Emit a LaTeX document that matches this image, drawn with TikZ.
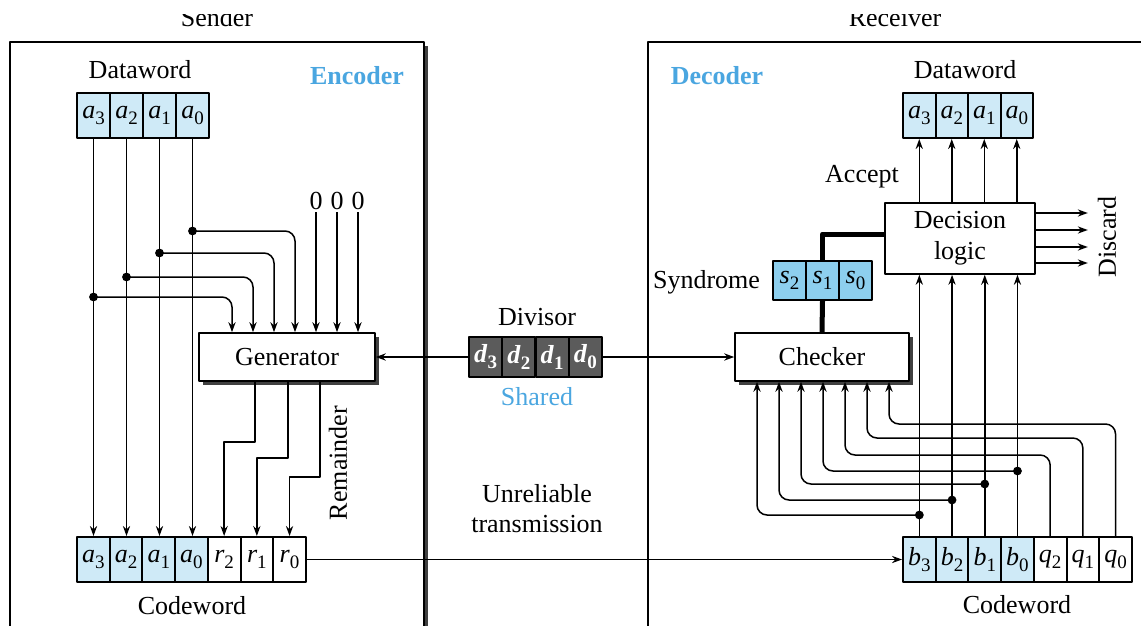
\documentclass[tikz,border=0pt]{standalone}
\usepackage{fontspec}
\setmainfont{Liberation Serif}
\usetikzlibrary{arrows.meta,shadows}
\definecolor{cellblue}{HTML}{CFEAF7}
\definecolor{synblue}{HTML}{8DCFEE}
\definecolor{lblue}{HTML}{4AA6E0}
\definecolor{divgrey}{HTML}{5B5B5B}
\newcommand{\bitlbl}[2]{\textit{#1}\raisebox{-0.5ex}{\fontsize{9.5}{9.5}\selectfont #2}}

\begin{document}
\begin{tikzpicture}[x=0.5pt, y=-0.5pt, line join=round,
	font=\fontsize{13}{15.5}\selectfont,
	arr/.style={-{Stealth[length=5pt,width=3.6pt]}, line width=0.75pt},
	cell/.style={draw, line width=1pt, minimum width=16.5pt, minimum height=22.5pt, inner sep=0pt},
	unit/.style={draw, line width=0.8pt, fill=white, minimum width=88pt, minimum height=24pt,
		drop shadow={shadow xshift=2pt, shadow yshift=-2pt, fill=black!75, opacity=1}},
	title/.style={font=\fontsize{13}{15.5}\selectfont\bfseries, text=lblue}]
	\useasboundingbox (0,0) rectangle (1141,626);
	\clip (0,15) rectangle (1141,626);

	% boxes
	\fill[black!75] (424,46) rectangle (428,660);
	\draw[line width=0.8pt] (10,42) rectangle (424,660);
	\draw[line width=0.8pt] (648,42) rectangle (1180,660);
	\node[anchor=base] at (217,27) {Sender};
	\node[anchor=base] at (895,27) {Receiver};
	\node[title] at (357,76) {Encoder};
	\node[title] at (717,76) {Decoder};

	% sender
	\node at (140,70) {Dataword};
	\foreach \k [count=\i from 0] in {3,2,1,0}
		\node[cell, fill=cellblue] (sa\k) at ({93.5+33*\i},115.5) {\bitlbl{a}{\k}};
	\foreach \k [count=\i from 0] in {3,2,1,0}
		\node[cell, minimum width=16.35pt, fill=cellblue] (ca\k) at ({93.35+32.7*\i},559.5) {\bitlbl{a}{\k}};
	\foreach \k [count=\i from 4] in {2,1,0}
		\node[cell, minimum width=16.35pt] (cr\k) at ({93.35+32.7*\i},559.5) {\bitlbl{r}{\k}};
	\node at (192,606) {Codeword};
	\node[unit] (gen) at (287,357) {Generator};
	\node[rotate=90] at (338,463) {Remainder};

	\foreach \k in {3,2,1,0}
		\draw[arr] (sa\k.south) -- (sa\k.south |- ca\k.north);
	\foreach \k/\y/\x in {3/297/232, 2/277/253, 1/253/274, 0/231/295} {
		\fill (sa\k.south |- 0,\y) circle (2.2pt);
		\draw[arr, rounded corners=5pt] (sa\k.south |- 0,\y) -| (\x,0 |- gen.north);
	}
	\foreach \x [count=\i] in {316,337,358} {
		\node[inner sep=1pt] (z\i) at (\x,201) {0};
		\draw[arr] (z\i.south) -- (z\i.south |- gen.north);
	}
	\foreach \x/\y/\k in {255/442/2, 288/458/1, 320/477/0}
		\draw[arr] (\x,0 |- gen.south) -- (\x,\y) -| (cr\k.north);

	% shared divisor
	\node at (537,317) {Divisor};
	\foreach \k [count=\i from 0] in {3,2,1,0}
		\node[cell, fill=divgrey, text=white, minimum width=16.6pt, minimum height=20pt, font=\fontsize{13}{15.5}\selectfont\bfseries]
			(d\k) at ({485.6+33.25*\i},357) {\bitlbl{d}{\k}};
	\node[text=lblue] at (537,397) {Shared};
	\node[align=center, font=\fontsize{13}{15}\selectfont] at (537,509) {Unreliable\\transmission};

	% receiver
	\node at (965,70) {Dataword};
	\foreach \k [count=\i from 0] in {3,2,1,0}
		\node[cell, minimum width=16.25pt, fill=cellblue] (ra\k) at ({919.25+32.5*\i},115.5) {\bitlbl{a}{\k}};
	\foreach \k [count=\i from 0] in {3,2,1,0}
		\node[cell, minimum width=16.35pt, fill=cellblue] (rb\k) at ({919.35+32.7*\i},559.5) {\bitlbl{b}{\k}};
	\foreach \k [count=\i from 4] in {2,1,0}
		\node[cell, minimum width=16.35pt] (rq\k) at ({919.35+32.7*\i},559.5) {\bitlbl{q}{\k}};
	\node at (1017,605) {Codeword};
	\node[draw, line width=0.8pt, minimum width=75pt, minimum height=35.5pt, align=center] (dec) at (960,238.5) {Decision\\logic};
	\node[unit, minimum width=87pt] (chk) at (822,357) {Checker};
	\foreach \k [count=\i from 0] in {2,1,0}
		\node[cell, fill=synblue, minimum height=19.5pt] (s\k) at ({789.5+33*\i},280.5) {\bitlbl{s}{\k}};
	\node[anchor=east] at (767,282) {Syndrome};
	\node at (862,177) {Accept};
	\node[rotate=90] at (1107,237) {Discard};

	\draw[line width=2.5pt] (dec.west |- 0,234) -| (s1.north);
	\draw[line width=2.5pt] (s1.south) -- (chk.north);
	\foreach \k in {3,2,1,0} {
		\draw[arr] (ra\k.south |- dec.north) -- (ra\k.south);
		\draw[arr] (rb\k.north) -- (rb\k.north |- dec.south);
	}
	\foreach \y in {213,230,247,263}
		\draw[arr] (dec.east |- 0,\y) -- ++(52,0);
	\foreach \k/\y/\x in {3/515/757, 2/500/779, 1/484/801, 0/471/823} {
		\fill (rb\k.north |- 0,\y) circle (2.2pt);
		\draw[arr, rounded corners=5pt] (rb\k.north |- 0,\y) -| (\x,0 |- chk.south);
	}
	\foreach \k/\y/\x in {2/455/845, 1/438/867, 0/424/889}
		\draw[arr, rounded corners=5pt] (rq\k.north) |- (\x,\y) -- (\x,0 |- chk.south);

	\draw[arr] (d3.west) -- (gen.east);
	\draw[arr] (d0.east) -- (chk.west);
	\draw[arr] (cr0.east) -- (rb3.west);
\end{tikzpicture}
\end{document}
